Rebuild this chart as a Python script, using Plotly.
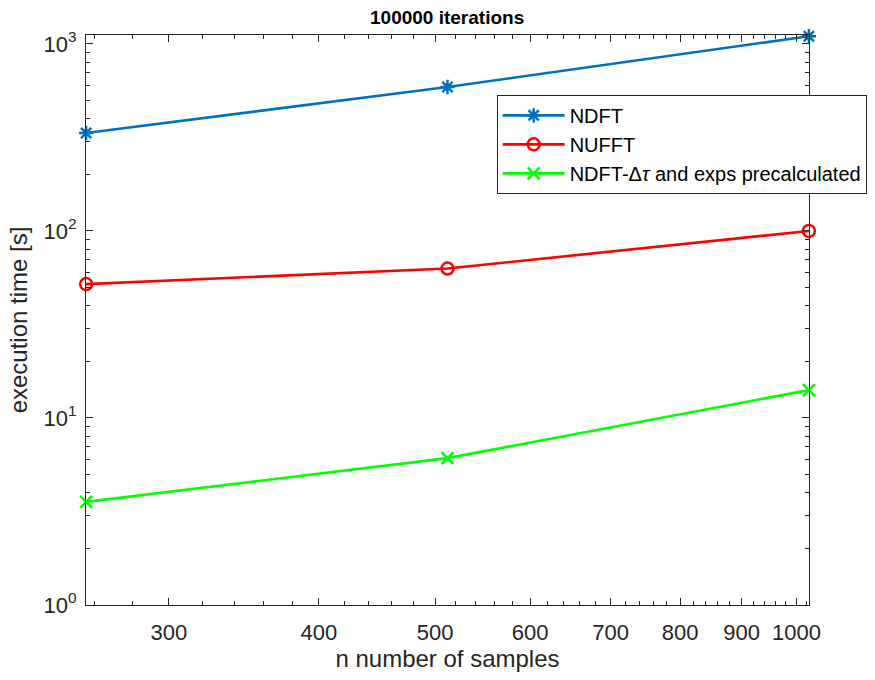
import math
import plotly.graph_objects as go

n_samples = [256, 512, 1024]
ndft = [334, 589, 1100]
nufft = [52, 63, 100]
ndft_pre = [3.56, 6.1, 14.1]

series_names = ["NDFT", "NUFFT", "NDFT-Δ<i>τ</i> and exps precalculated"]
series_colors = ["#0072BD", "#FF0000", "#00FF00"]
series_symbols = ["asterisk-open", "circle-open", "x-thin-open"]

x_tickvals = [300, 400, 500, 600, 700, 800, 900, 1000]
x_ticktext = ["300", "400", "500", "600", "700", "800", "900", "1000"]
x_minor = [v for v in range(260, 1021, 20) if v not in x_tickvals]
y_tickvals = [1, 10, 100, 1000]
y_ticktext = ["10<sup>0</sup>", "10<sup>1</sup>", "10<sup>2</sup>", "10<sup>3</sup>"]
y_minor = [m * 10 ** e for e in range(0, 3) for m in range(2, 10)]

FONT = "Liberation Sans, Arial, Helvetica, sans-serif"
AX = "#262626"

fig = go.Figure()
for name, ys, c, s in zip(series_names, [ndft, nufft, ndft_pre], series_colors, series_symbols):
    fig.add_trace(go.Scatter(
        x=n_samples, y=ys, name=name, mode="lines+markers",
        line=dict(color=c, width=2.6),
        marker=dict(symbol=s, size=12, color=c, line=dict(color=c, width=2.5)),
        cliponaxis=False,
    ))

axis_common = dict(
    type="log", showgrid=False, zeroline=False, showline=True, linecolor=AX,
    linewidth=1, mirror="allticks", ticks="inside", ticklen=7, tickcolor=AX,
    tickfont=dict(family=FONT, size=22, color=AX),
)
fig.update_xaxes(
    **axis_common,
    range=[math.log10(n_samples[0]) - 1e-4, math.log10(n_samples[-1]) + 1e-4],
    tickmode="array", tickvals=x_tickvals, ticktext=x_ticktext,
    ticklabelstandoff=8,
    minor=dict(tickmode="array", tickvals=x_minor, ticks="inside", ticklen=4, tickcolor=AX),
    title=dict(text="n number of samples", font=dict(family=FONT, size=24, color=AX), standoff=4),
)
fig.update_yaxes(
    **axis_common,
    range=[0, 3.048],
    tickmode="array", tickvals=y_tickvals, ticktext=y_ticktext,
    ticklabelstandoff=4,
    minor=dict(tickmode="array", tickvals=y_minor, ticks="inside", ticklen=4, tickcolor=AX),
    title=dict(text="execution time [s]", font=dict(family=FONT, size=24, color=AX), standoff=9),
)
fig.update_layout(
    width=875, height=680,
    margin=dict(l=86, r=66, t=35, b=75, autoexpand=False),
    paper_bgcolor="white", plot_bgcolor="white",
    title=dict(text="<b>100000 iterations</b>", x=0.511, xanchor="center", y=0.975, yanchor="middle",
               font=dict(family=FONT, size=19, color="black")),
    legend=dict(x=0.568, y=0.895, xanchor="left", yanchor="top",
                bgcolor="white", bordercolor=AX, borderwidth=1,
                font=dict(family=FONT, size=20, color="black"),
                itemwidth=62, tracegroupgap=0),
    showlegend=True,
)
fig.write_html("out.html")
